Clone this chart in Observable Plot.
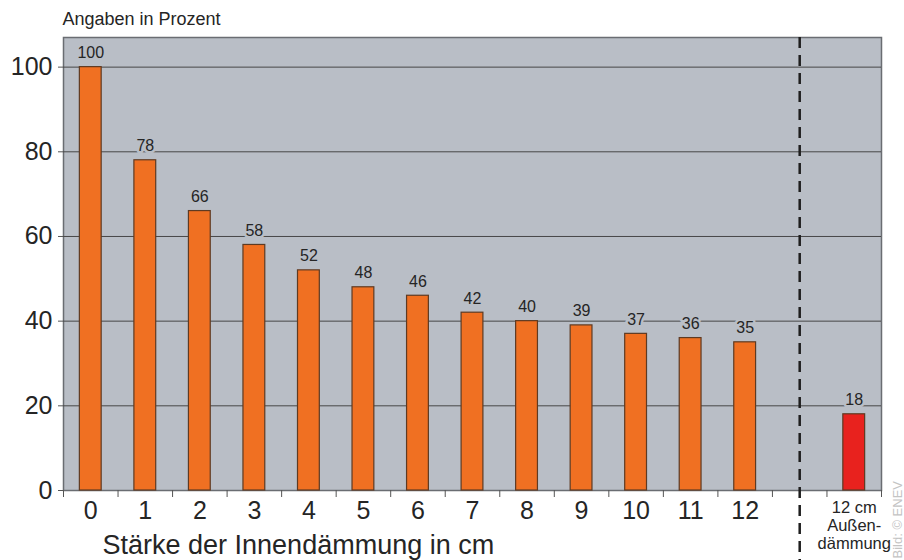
<!DOCTYPE html>
<html>
<head>
<meta charset="utf-8">
<script src="https://cdn.jsdelivr.net/npm/d3@7"></script>
<script src="https://cdn.jsdelivr.net/npm/@observablehq/plot@0.6"></script>
<style>
  html, body { margin: 0; padding: 0; background: #ffffff; }
  #chart svg { display: block; }
</style>
</head>
<body>
<div id="chart"></div>
<script>
// ---- data ----
const categories = ["0","1","2","3","4","5","6","7","8","9","10","11","12"];
const values = [100, 78, 66, 58, 52, 48, 46, 42, 40, 39, 37, 36, 35];
const extLabel = "12 cm\nAußen-\ndämmung";
const extValue = 18;
const yTicks = [0, 20, 40, 60, 80, 100];
const yTitle = "Angaben in Prozent";
const xTitle = "Stärke der Innendämmung in cm";
const credit = "Bild: © ENEV";

// slot index: inner categories 0..12, separator slot 13, external slot 14
const sepSlot = categories.length;
const extSlot = categories.length + 1;
const data = categories.map((c, i) => ({slot: i, label: c, value: values[i], kind: "inner"}))
  .concat([{slot: extSlot, label: extLabel, value: extValue, kind: "ext"}]);
const boundaries = d3.range(-1, extSlot + 1).map(i => i + 0.5);

const bg = "#b9bec6";
const ink = "#252525";
const font = "'Liberation Sans', Arial, sans-serif";

const chart = Plot.plot({
  width: 904,
  height: 560,
  marginLeft: 63,
  marginRight: 23,
  marginTop: 37,
  marginBottom: 70,
  style: {fontFamily: font, background: "#ffffff", color: ink, overflow: "visible"},
  x: {domain: [-0.5, extSlot + 0.5]},
  y: {domain: [0, 107]},
  marks: [
    Plot.frame({fill: bg, stroke: "#6a6d72", strokeWidth: 1.5}),
    Plot.gridY(yTicks.filter(d => d > 0), {stroke: "#474747", strokeOpacity: 1, strokeWidth: 1}),
    Plot.axisY(yTicks, {tickSize: 5, tickPadding: 6, fontSize: 25, label: null, stroke: "#555", fill: ink}),
    Plot.rectY(data, {
      x1: d => d.slot - 0.2, x2: d => d.slot + 0.2, y1: 0, y2: "value",
      fill: d => d.kind === "ext" ? "#e8221e" : "#f07022",
      stroke: "#5e3a22", strokeWidth: 1.2
    }),
    Plot.text(data, {
      x: "slot", y: "value", text: d => String(d.value),
      lineAnchor: "bottom", dy: -9, fontSize: 16, fill: ink,
      stroke: bg, strokeWidth: 5
    }),
    Plot.ruleX([sepSlot], {y1: 107, y2: -17, stroke: "#1e1e1e", strokeWidth: 2.5, strokeDasharray: "11,7"}),
    Plot.axisX(boundaries, {tickSize: 7, tickFormat: () => "", label: null, stroke: "#555"}),
    Plot.axisX(d3.range(categories.length), {
      tickSize: 0, tickPadding: 11, fontSize: 25, label: null,
      tickFormat: i => categories[i], fill: ink
    }),
    Plot.text([extLabel], {
      x: extSlot, frameAnchor: "bottom", text: d => d,
      lineAnchor: "top", dy: 10, fontSize: 16.5, lineHeight: 1.08, fill: ink
    }),
    Plot.text([xTitle], {
      frameAnchor: "bottom-left", text: d => d, textAnchor: "start",
      lineAnchor: "bottom", dx: 39, dy: 63, fontSize: 27, fill: ink
    }),
    Plot.text([yTitle], {
      frameAnchor: "top-left", text: d => d, textAnchor: "start",
      lineAnchor: "bottom", dx: -1, dy: -13, fontSize: 18, fill: ink
    }),
    Plot.text([credit], {
      frameAnchor: "bottom-right", text: d => d, rotate: -90, textAnchor: "start",
      lineAnchor: "middle", dx: 16, dy: 68, fontSize: 13, fill: "#c4c4c4"
    })
  ]
});
document.getElementById("chart").append(chart);
</script>
</body>
</html>
